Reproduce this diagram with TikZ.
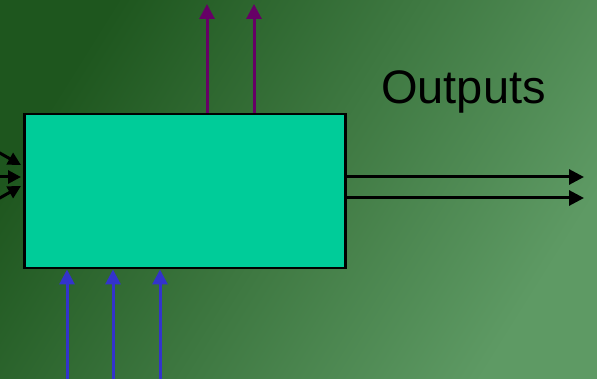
\documentclass[tikz,border=0pt]{standalone}
\usepackage{fontspec}
\setmainfont{Liberation Sans}
\usetikzlibrary{arrows.meta}
\definecolor{bgA}{HTML}{1E561E}
\definecolor{bgB}{HTML}{5E9A64}
\definecolor{boxfill}{HTML}{00CC99}
\definecolor{outpurple}{HTML}{660066}
\definecolor{inblue}{HTML}{3333CC}
\tikzset{
  flow/.style={line width=3pt,-{Triangle[length=15pt,width=15pt]}},
  sideflow/.style={line width=3pt,-{Triangle[length=13pt,width=13pt]}},
}
\begin{document}
\begin{tikzpicture}[x=1pt,y=-1pt]
\useasboundingbox (0,0) rectangle (597,379);
\shade[top color=bgA,bottom color=bgB,shading angle=58] (0,0) rectangle (597,379);
\node[draw=black,line width=2.5pt,fill=boxfill,minimum width=321pt,minimum height=154pt,inner sep=0pt,anchor=north west] (box) at (23,113) {};
% outputs
\coordinate (o1) at (584,177);
\coordinate (o2) at (584,198);
\draw[flow] (box.east |- o1) -- (o1);
\draw[flow] (box.east |- o2) -- (o2);
% top purple
\coordinate (t1) at (207,4);
\coordinate (t2) at (254,4);
\draw[flow,draw=outpurple,fill=outpurple] (box.north -| t1) -- (t1);
\draw[flow,draw=outpurple,fill=outpurple] (box.north -| t2) -- (t2);
% bottom blue
\coordinate (b1) at (67,379);
\coordinate (b2) at (113,379);
\coordinate (b3) at (160,379);
\draw[flow,draw=inblue,fill=inblue] (b1) -- (b1 |- box.south);
\draw[flow,draw=inblue,fill=inblue] (b2) -- (b2 |- box.south);
\draw[flow,draw=inblue,fill=inblue] (b3) -- (b3 |- box.south);
% left inputs
\coordinate (l1) at (-2,152);
\coordinate (l2) at (-2,177);
\coordinate (l3) at (-2,199);
\coordinate (e1) at (21,165);
\coordinate (e2) at (21,177);
\coordinate (e3) at (21,186);
\draw[sideflow] (l1) -- (e1);
\draw[sideflow] (l2) -- (e2);
\draw[sideflow] (l3) -- (e3);
\node[font=\fontsize{47}{56}\selectfont,anchor=base west,inner sep=0pt] (out) at (381,104) {Outputs};
\end{tikzpicture}
\end{document}
